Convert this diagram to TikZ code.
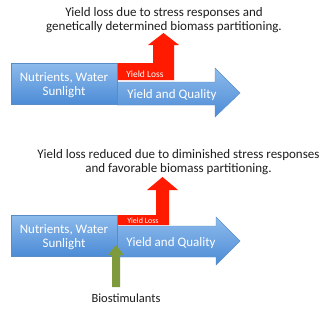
\documentclass[tikz,border=0pt]{standalone}
\usepackage{fontspec}
\setmainfont{Carlito}
\definecolor{bluetop}{HTML}{8DBBEC}
\definecolor{bluebot}{HTML}{4C8BD6}
\definecolor{blueedge}{HTML}{5A8CC8}
\definecolor{redfill}{HTML}{FF1A00}
\definecolor{greenfill}{HTML}{7F9A3C}
\definecolor{titlecol}{HTML}{1E1E1E}
\tikzset{
  bluebody/.style={top color=bluetop, bottom color=bluebot, draw=blueedge, line width=0.4pt},
  redbody/.style={fill=redfill},
  greenbody/.style={fill=greenfill},
  titletxt/.style={text=titlecol, align=center, font=\fontsize{13}{13.5}\selectfont, inner sep=0pt},
  whitetxt/.style={text=white, align=center, font=\fontsize{13}{14}\selectfont, inner sep=0pt},
  smalltxt/.style={text=white, inner sep=0pt},
}
\begin{document}
\begin{tikzpicture}[x=1pt,y=-1pt]
\useasboundingbox (0,0) rectangle (327,317);
\fill[white] (0,0) rectangle (327,317);

% ---------- top diagram ----------
\node[titletxt] (title1) at (164,20) {Yield loss due to stress responses and\\genetically determined biomass partitioning.};
\path[bluebody] (117,82) -- (215,82) -- (215,68) -- (240,93) -- (215,117) -- (215,105) -- (117,105) -- cycle;
\path[redbody] (117,80) -- (117,63) -- (153,63) -- (153,45) -- (148,45) -- (163.5,33) -- (179,45) -- (174,45) -- (174,80) -- cycle;
\path[bluebody] (11,63) rectangle (117,104.5);
\node[whitetxt] (nw1) at (64,85.5) {Nutrients, Water\\Sunlight};
\node[smalltxt, font=\fontsize{9.5}{11}\selectfont] (yl1) at (145,74) {Yield Loss};
\node[whitetxt] (yq1) at (172,95.5) {Yield and Quality};

% ---------- bottom diagram ----------
\node[titletxt] (title2) at (178.5,162) {Yield loss reduced due to diminished stress responses\\and favorable biomass partitioning.};
\path[bluebody] (117,226) -- (216,226) -- (216,217) -- (240,241) -- (216,265) -- (216,257) -- (117,257) -- cycle;
\path[redbody] (117,225) -- (117,215) -- (156,215) -- (156,190) -- (147,190) -- (162.5,177) -- (178,190) -- (169,190) -- (169,225) -- cycle;
\path[bluebody] (11,215) rectangle (117,256);
\path[greenbody] (112,287) -- (112,255) -- (108,255) -- (116,245) -- (124,255) -- (120,255) -- (120,287) -- cycle;
\node[whitetxt] (nw2) at (64,237) {Nutrients, Water\\Sunlight};
\node[smalltxt, font=\fontsize{8}{9}\selectfont] (yl2) at (143,221) {Yield Loss};
\node[whitetxt] (yq2) at (171,243.5) {Yield and Quality};
\node[titletxt, font=\fontsize{12.5}{13}\selectfont] (bio) at (126,298.5) {Biostimulants};
\end{tikzpicture}
\end{document}
